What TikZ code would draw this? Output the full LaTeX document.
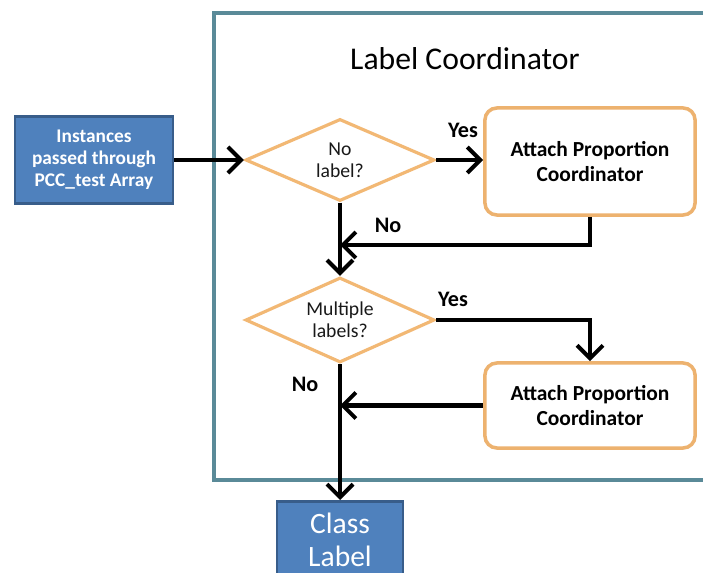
\documentclass[tikz,border=0pt]{standalone}
\usepackage{fontspec}
\setmainfont{Carlito}
\usetikzlibrary{arrows.meta,shapes.geometric}
\definecolor{boxblue}{HTML}{4F81BD}
\definecolor{boxblueline}{HTML}{385D8A}
\definecolor{decorange}{HTML}{F2B874}
\definecolor{frameteal}{HTML}{5A8A98}
\tikzset{
  % blue terminal boxes
  bluebox/.style={draw=boxblueline,fill=boxblue,line width=0.8pt,text=white,
    align=center,inner sep=0pt},
  % orange decision diamonds
  decision/.style={diamond,draw=decorange,fill=white,line width=0.9pt,
    inner sep=0pt,align=center,text=black!90,
    font=\fontsize{5.6}{6.2}\selectfont},
  % rounded process boxes
  procbox/.style={draw=decorange!90!brown,fill=white,line width=1pt,
    rounded corners=0.12cm,align=center,inner sep=0pt,
    font=\bfseries\fontsize{6.1}{7.1}\selectfont},
  % thick flow arrows
  flow/.style={line width=1.15pt,-{Straight Barb[length=1.3mm,width=2.6mm,line width=1.15pt]}},
  yesno/.style={font=\bfseries\fontsize{6.3}{7}\selectfont},
}

\begin{document}
\begin{tikzpicture}[x=0.01cm,y=-0.01cm]
\useasboundingbox (0,0) rectangle (703,573);
\clip (0,0) rectangle (703,573);

% frame of the coordinator
\draw[frameteal,line width=1pt,fill=white] (214,13) rectangle (720,480);
\node[font=\fontsize{9}{10}\selectfont] (title) at (465,59) {Label Coordinator};

% nodes
\node[bluebox,minimum width=1.58cm,minimum height=0.87cm,
  font=\bfseries\fontsize{5.5}{6.3}\selectfont] (inst) at (94,160)
  {Instances\\passed through\\PCC\_test Array};
\node[decision,minimum width=1.89cm,minimum height=0.82cm,aspect=2.3] (nolab) at (340,160) {No\\label?};
\node[procbox,minimum width=2.1cm,minimum height=1.07cm] (attach1) at (590,161.5)
  {Attach Proportion\\Coordinator};
\node[decision,minimum width=1.89cm,minimum height=0.85cm,aspect=2.2] (multi) at (340,320) {Multiple\\labels?};
\node[procbox,minimum width=2.1cm,minimum height=0.85cm] (attach2) at (590,405.5)
  {Attach Proportion\\Coordinator};
\node[bluebox,minimum width=1.26cm,minimum height=0.76cm,anchor=north,
  font=\fontsize{8.4}{9.4}\selectfont] (cls) at (340,500) {Class\\Label};

\coordinate (join1) at (340,245);
\coordinate (join2) at (340,405.5);

% connectors
\draw[flow] (inst.east) -- (nolab.west);
\draw[flow] (nolab.east) -- (attach1.west |- nolab.east);
\draw[flow] (attach1.south) |- (join1);
\draw[flow] (nolab.south) -- (multi.north);
\draw[flow] (multi.east) -| (attach2.north);
\draw[flow] (attach2.west) -- (join2);
\draw[flow] (multi.south) -- (cls.north);

% labels
\node[yesno] (yes1) at (463,130) {Yes};
\node[yesno] (no1) at (388,225) {No};
\node[yesno] (yes2) at (453,299) {Yes};
\node[yesno] (no2) at (305,384) {No};
\end{tikzpicture}
\end{document}
